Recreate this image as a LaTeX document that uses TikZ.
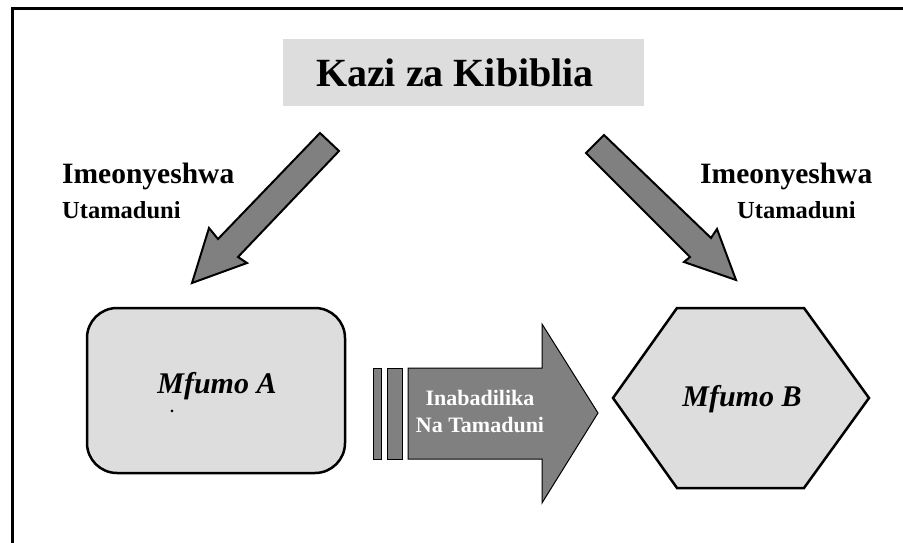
\documentclass[tikz,border=0pt]{standalone}
\usepackage{fontspec}
\setmainfont{Liberation Serif}
\usepackage{tikz}
\definecolor{paleGray}{HTML}{DDDDDD}
\definecolor{midGray}{HTML}{808080}

\begin{document}
\begin{tikzpicture}[x=1pt,y=-1pt,
    blockarrow/.style={fill=midGray,draw=black,line width=2pt,line join=miter},
    sysshape/.style={fill=paleGray,draw=black,line width=2.5pt},
    sysname/.style={anchor=base,inner sep=0pt,font=\fontsize{30}{31}\selectfont\bfseries\itshape},
    shownlabel/.style={anchor=base west,inner sep=0pt,font=\fontsize{29.5}{30}\selectfont\bfseries},
    culturelabel/.style={anchor=base west,inner sep=0pt,font=\fontsize{24.5}{26}\selectfont\bfseries}]
  \useasboundingbox (0,0) rectangle (903,543);
  \draw[line width=3pt] (12.5,543) -- (12.5,8.5) -- (903,8.5);
  % title
  \node[fill=paleGray,minimum width=361pt,minimum height=67pt,inner sep=0pt] (titlebox) at (463.5,72.5) {};
  \node[anchor=base,inner sep=0pt,font=\fontsize{40}{42}\selectfont\bfseries] (title) at (455,87) {Kazi za Kibiblia};
  % diagonal arrows
  \draw[blockarrow] (320,133) -- (218,239) -- (209,228) -- (192,283) -- (247,263) -- (238,257) -- (339,151) -- cycle;
  \draw[blockarrow] (604,135) -- (711,238) -- (717,229) -- (736,280) -- (684,262) -- (690,257) -- (586,153) -- cycle;
  \node[shownlabel] (shownA) at (62,183) {Imeonyeshwa};
  \node[culturelabel] (cultA) at (62,218) {Utamaduni};
  \node[shownlabel] (shownB) at (700,183) {Imeonyeshwa};
  \node[culturelabel] (cultB) at (737,218) {Utamaduni};
  % systems
  \node[sysshape,rounded corners=30pt,minimum width=258pt,minimum height=165pt] (mfA) at (216,390.5) {};
  \node[sysname] (mfAname) at (217,393) {Mfumo A};
  \node[anchor=base,inner sep=0pt,font=\fontsize{16}{16}\selectfont\bfseries] (dotA) at (172,412) {.};
  \draw[sysshape] (613,398) -- (677,308) -- (804,308) -- (869,398) -- (804,488) -- (677,488) -- cycle;
  \node[sysname] (mfBname) at (742,406) {Mfumo B};
  % change arrow
  \draw[fill=midGray,draw=black,line width=1pt] (373,368) rectangle (381,459);
  \draw[fill=midGray,draw=black,line width=1pt] (387,368) rectangle (402,459);
  \draw[fill=midGray,draw=black,line width=1pt] (408,368) -- (542,368) -- (542,324) -- (598,413) -- (542,503) -- (542,459) -- (408,459) -- cycle;
  \node[align=center,text=white,inner sep=0pt,font=\fontsize{22}{27}\selectfont\bfseries] (change) at (480,411) {Inabadilika\\Na Tamaduni};
\end{tikzpicture}
\end{document}
